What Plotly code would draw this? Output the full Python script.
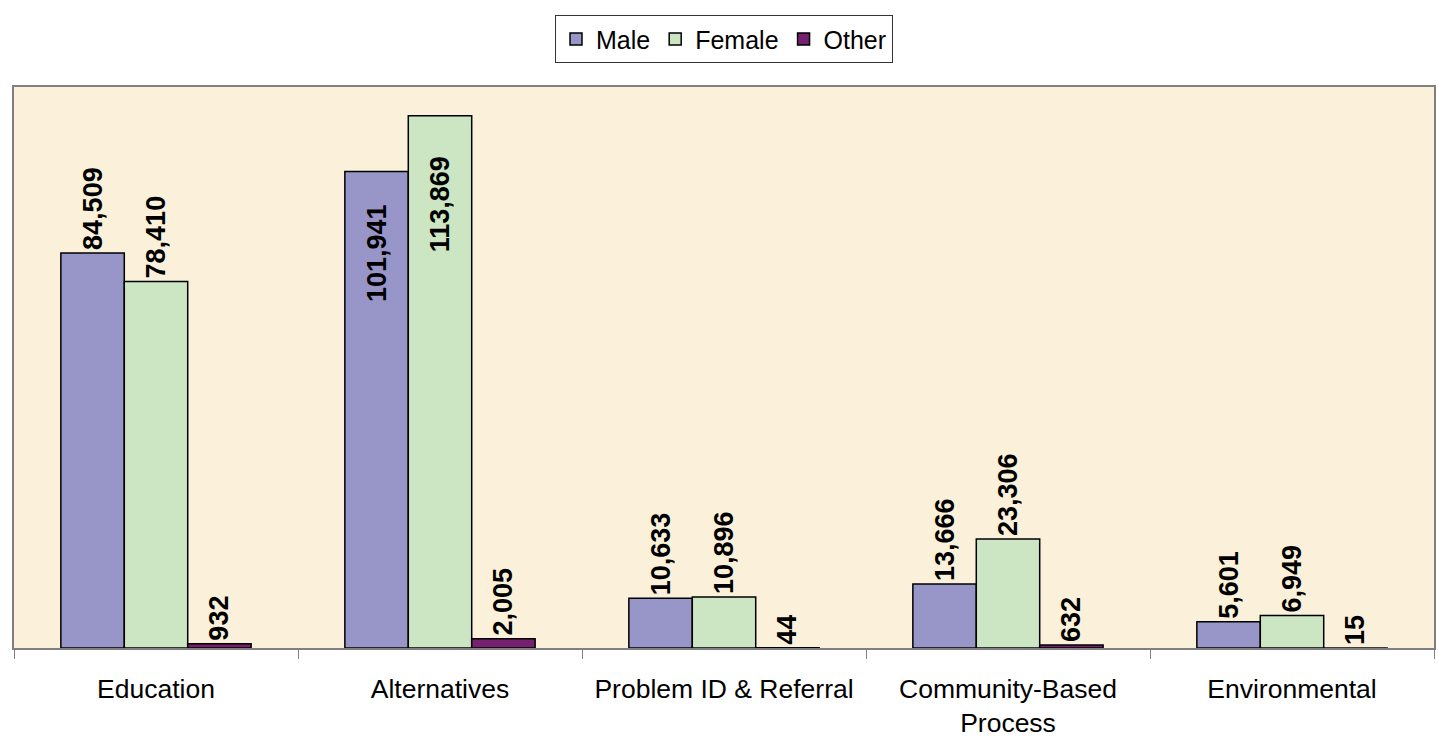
import plotly.graph_objects as go

categories = ["Education", "Alternatives", "Problem ID & Referral", "Community-Based<br>Process", "Environmental"]
male = [84509, 101941, 10633, 13666, 5601]
female = [78410, 113869, 10896, 23306, 6949]
other = [932, 2005, 44, 632, 15]

male_pos = ["outside", "inside", "outside", "outside", "outside"]
female_pos = ["outside", "inside", "outside", "outside", "outside"]
other_pos = ["outside"] * 5
# extra gap (non-breaking spaces) after inside labels, as in the original
male_pad = [0, 4, 0, 0, 0]
female_pad = [0, 5, 0, 0, 0]
other_pad = [0] * 5

FONT = "Arial, Liberation Sans, sans-serif"

fig = go.Figure()
for name, vals, color, pos, pad in [
    ("Male", male, "#9896C8", male_pos, male_pad),
    ("Female", female, "#CCE5C2", female_pos, female_pad),
    ("Other", other, "#76216F", other_pos, other_pad),
]:
    labels = [f"<b>{v:,}</b>" + "\u00a0" * p for v, p in zip(vals, pad)]
    fig.add_trace(go.Bar(
        name=name, x=categories, y=vals, text=labels,
        marker=dict(color=color, line=dict(color="black", width=1.5)),
        texttemplate="%{text}", textposition=pos, textangle=-90,
        insidetextanchor="end", constraintext="none", cliponaxis=False,
        textfont=dict(family=FONT, size=27, color="black"),
    ))

fig.update_layout(
    width=1438, height=740,
    margin=dict(l=14, r=2, t=87, b=89),
    barmode="group", bargap=0.33, bargroupgap=0,
    paper_bgcolor="white", plot_bgcolor="#FBF1DA",
    font=dict(family=FONT, size=26, color="black"),
    showlegend=True,
    legend=dict(orientation="h", x=0.5, xanchor="center", y=1.128, yanchor="top",
                bgcolor="white", bordercolor="#333333", borderwidth=1,
                font=dict(family=FONT, size=25, color="black"), traceorder="normal",
                itemwidth=30),
    xaxis=dict(showline=True, linecolor="#808080", linewidth=1.5, mirror=True,
               ticks="outside", ticklen=9, tickcolor="#808080", tickson="boundaries",
               showgrid=False, tickfont=dict(family=FONT, size=26.5, color="black"),
               ticklabelstandoff=16),
    yaxis=dict(range=[0, 120000], showline=True, linecolor="#808080", linewidth=1.5,
               mirror=True, showticklabels=False, showgrid=False, zeroline=False, ticks=""),
)

fig.write_html("out.html", config={"displayModeBar": False},
               post_script="document.body.style.margin='0px';document.body.style.overflow='hidden';")
